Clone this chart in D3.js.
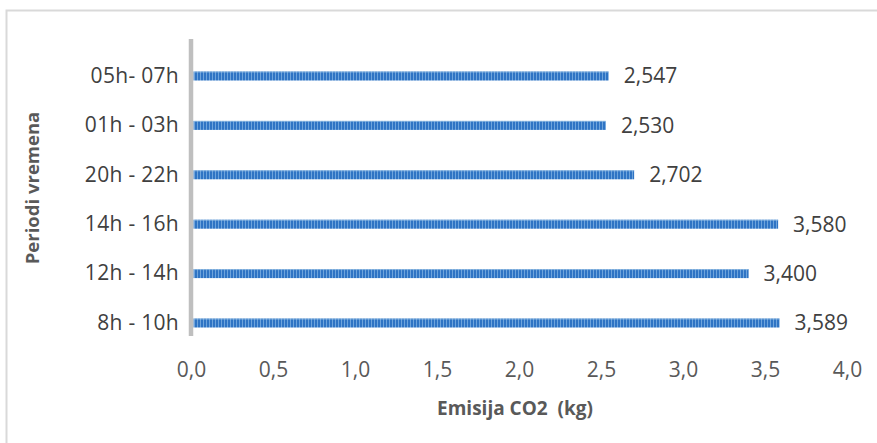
<!DOCTYPE html>
<html><head><meta charset="utf-8">
<script src="https://cdn.jsdelivr.net/npm/d3@7"></script>
<style>body{margin:0;background:#fff;}svg{display:block;font-family:"Open Sans","Noto Sans",sans-serif;}</style>
</head><body>
<svg id="c" width="877" height="443"></svg>
<script>
const categories = ["05h- 07h","01h - 03h","20h - 22h","14h - 16h","12h - 14h","8h - 10h"];
const values = [2.547, 2.530, 2.702, 3.580, 3.400, 3.589];
const xTicks = [0,0.5,1,1.5,2,2.5,3,3.5,4];
const xTitle = "Emisija CO2  (kg)";
const yTitle = "Periodi vremena";

const svg = d3.select("#c");
svg.append("rect").attr("x",6.5).attr("y",10.5).attr("width",880).attr("height",450)
  .attr("fill","none").attr("stroke","#d9d9d9").attr("stroke-width",2);

const defs = svg.append("defs");
const pat = defs.append("pattern").attr("id","stripes").attr("patternUnits","userSpaceOnUse")
  .attr("width",3).attr("height",10);
pat.append("rect").attr("width",3).attr("height",10).attr("fill","#2f74c4");
pat.append("rect").attr("x",2).attr("width",1).attr("height",10).attr("fill","#6ea4dc");

const x = d3.scaleLinear().domain([0,4]).range([191,847]);
const y = d3.scaleBand().domain(categories).range([51.3,347.7]);
const fmt = v => d3.format(".3f")(v).replace(".",",");
const fmt1 = v => d3.format(".1f")(v).replace(".",",");

const bh = 9;
svg.selectAll("rect.bar").data(values).enter().append("rect").attr("class","bar")
  .attr("x",x(0)+2.5).attr("y",(d,i)=>y(categories[i])+y.bandwidth()/2-bh/2)
  .attr("width",d=>x(d)-x(0)-2.5).attr("height",bh).attr("fill","url(#stripes)");
svg.selectAll("rect.top").data(values).enter().append("rect").attr("class","top")
  .attr("x",x(0)+2.5).attr("y",(d,i)=>y(categories[i])+y.bandwidth()/2-bh/2)
  .attr("width",d=>x(d)-x(0)-2.5).attr("height",1).attr("fill","#9dc3e6").attr("opacity",0.7);

svg.selectAll("text.val").data(values).enter().append("text").attr("class","val")
  .attr("x",d=>x(d)+15).attr("y",(d,i)=>y(categories[i])+y.bandwidth()/2)
  .attr("dy","0.35em").attr("font-size",21).attr("fill","#404040").text(d=>fmt(d));

const yAxis = d3.axisLeft(y).tickSize(0).tickPadding(10);
const gy = svg.append("g").attr("transform",`translate(${x(0)-2},0)`).call(yAxis);
gy.select(".domain").remove();
gy.selectAll("text").attr("font-size",21).attr("letter-spacing","0.3px").attr("fill","#404040")
  .attr("font-family","'Open Sans','Noto Sans',sans-serif").style("white-space","pre");
svg.append("line").attr("x1",x(0)).attr("x2",x(0)).attr("y1",39).attr("y2",336)
  .attr("stroke","#bfbfbf").attr("stroke-width",4.5);

const xAxis = d3.axisBottom(x).tickValues(xTicks).tickSize(0).tickPadding(0).tickFormat(fmt1);
const gx = svg.append("g").attr("transform","translate(0,362)").call(xAxis);
gx.select(".domain").remove();
gx.selectAll("text").attr("font-size",21).attr("fill","#595959").attr("font-family","'Open Sans','Noto Sans',sans-serif");

svg.append("text").attr("x",515).attr("y",408).attr("text-anchor","middle").attr("dy","0.35em")
  .style("white-space","pre")
  .attr("font-size",19).attr("font-weight","bold").attr("fill","#595959").text(xTitle);
svg.append("text").attr("transform","translate(33,188) rotate(-90)").attr("text-anchor","middle").attr("dy","0.35em")
  .attr("font-size",18.5).attr("font-weight","bold").attr("fill","#595959").text(yTitle);
</script>
</body></html>
